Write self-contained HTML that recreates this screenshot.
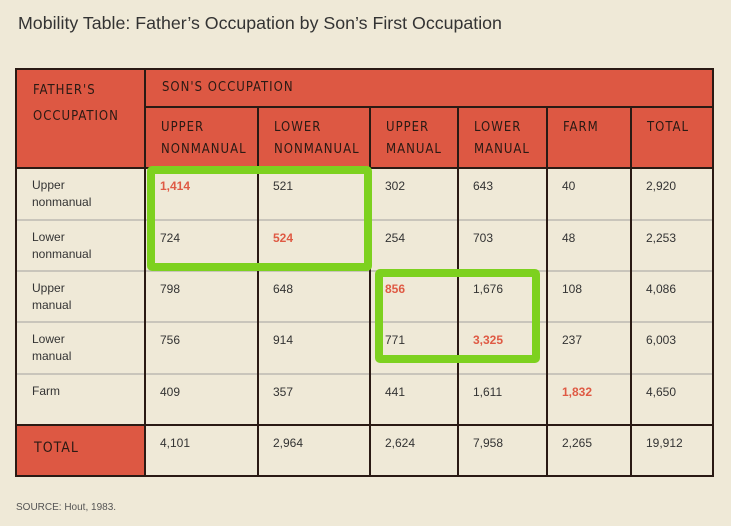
<!DOCTYPE html>
<html><head><meta charset="utf-8">
<style>
body{margin:0;width:731px;height:526px;background:#efe9d7;position:relative;overflow:hidden;font-family:"Liberation Sans",sans-serif;}
.t{position:absolute;}
.hdr{font-family:"DejaVu Sans Condensed","Liberation Sans",sans-serif;font-size:13px;color:#2a1a14;letter-spacing:1px;line-height:22px;}
.cell{position:absolute;font-size:12px;color:#333;}
.red{color:#df5a44;font-weight:bold;}
</style></head>
<body>
<div class="t" style="left:18px;top:13px;font-size:17.8px;color:#333;">Mobility Table: Father’s Occupation by Son’s First Occupation</div>
<div id="tbl" style="position:absolute;left:0;top:0;width:731px;height:526px;"></div>
<div class="t" style="left:16px;top:502px;font-size:10px;color:#555;">SOURCE: Hout, 1983.</div>
<script>
const colHeads=[["UPPER","NONMANUAL"],["LOWER","NONMANUAL"],["UPPER","MANUAL"],["LOWER","MANUAL"],["FARM"],["TOTAL"]];
const rowHeads=[["Upper","nonmanual"],["Lower","nonmanual"],["Upper","manual"],["Lower","manual"],["Farm"]];
const values=[["1,414","521","302","643","40","2,920"],["724","524","254","703","48","2,253"],["798","648","856","1,676","108","4,086"],["756","914","771","3,325","237","6,003"],["409","357","441","1,611","1,832","4,650"]];
const totals=["4,101","2,964","2,624","7,958","2,265","19,912"];
const highlight=[[0,0],[1,1],[2,2],[3,3],[4,4]];
const xs=[16,145,258,370,458,547,631,714];
const ys=[168,220,271,322,374,425,477];
const T=document.getElementById('tbl');
function div(css,html,name){const d=document.createElement('div');d.style.cssText='position:absolute;'+css;if(html!==undefined)d.innerHTML=html;


T.appendChild(d);return d;}
const RED='#dd5843';
div(`left:16px;top:69px;width:698px;height:99px;background:${RED};`,'','header-background');
div(`left:16px;top:425px;width:129px;height:52px;background:${RED};`,'','total-label-background');
div('left:33px;top:78px;','<div class="hdr" style="line-height:26px">FATHER\'S<br>OCCUPATION</div>','father-occupation-header');
div('left:162px;top:77px;','<div class="hdr">SON\'S OCCUPATION</div>','son-occupation-header');
colHeads.forEach((h,i)=>{div(`left:${xs[i+1]+16}px;top:117px;`,'<div class="hdr">'+h.join('<br>')+'</div>','column-header');});
rowHeads.forEach((h,r)=>{div(`left:32px;top:${ys[r]+9}px;font-size:12px;color:#333;line-height:17px;`,h.join('<br>'),'row-header');});
div('left:34px;top:437px;','<div class="hdr" style="font-size:14px">TOTAL</div>','total-row-label');
values.forEach((row,r)=>row.forEach((v,c)=>{const hl=highlight.some(p=>p[0]===r&&p[1]===c);
div(`left:${xs[c+1]+15}px;top:${ys[r]+9}px;`,`<span class="cell ${hl?'red':''}" style="position:static">${v}</span>`,'value-cell');}));
totals.forEach((v,c)=>div(`left:${xs[c+1]+15}px;top:${ys[5]+9}px;`,`<span class="cell" style="position:static">${v}</span>`,'total-cell'));
for(let r=1;r<5;r++)div(`left:145px;top:${ys[r]-1}px;width:569px;height:2px;background:#c9c5bb;`,'','row-divider');
for(let r=1;r<5;r++)div(`left:16px;top:${ys[r]-1}px;width:129px;height:2px;background:#c9c5bb;`,'','row-divider');
div('left:145px;top:106px;width:569px;height:2px;background:#2a1a14;','','subheader-line');
div('left:16px;top:167px;width:698px;height:2px;background:#2a1a14;','','header-bottom-line');
div('left:16px;top:424px;width:698px;height:2px;background:#2a1a14;','','total-top-line');
xs.slice(1,7).forEach((x,i)=>div(`left:${x-1}px;top:${i===0?69:107}px;width:2px;height:${i===0?408:370}px;background:#2a1a14;`,'','column-line'));
div('left:15px;top:68px;width:699px;height:409px;border:2px solid #2a1a14;box-sizing:border-box;','','table-border');
div('left:147px;top:166px;width:225px;height:105px;border:8px solid #7dd11f;border-radius:5px;box-sizing:border-box;','','highlight-box-nonmanual');
div('left:375px;top:269px;width:165px;height:94px;border:8px solid #7dd11f;border-radius:5px;box-sizing:border-box;','','highlight-box-manual');
</script>
</body></html>
